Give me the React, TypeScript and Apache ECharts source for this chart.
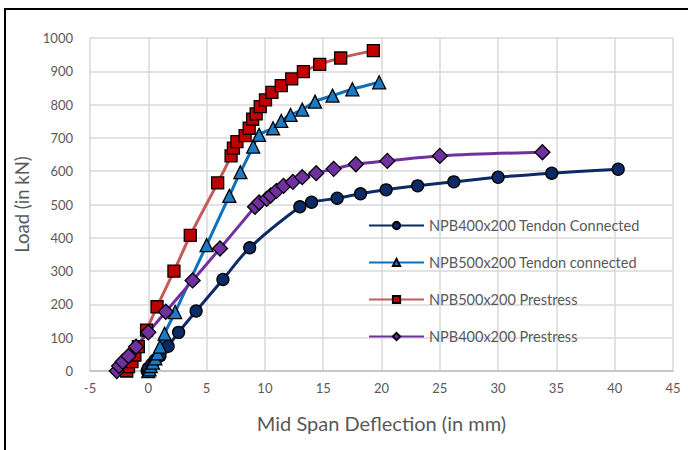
import React, { useEffect, useRef } from "react";
import * as echarts from "echarts";

const seriesNames = [
  "NPB400x200 Tendon Connected",
  "NPB500x200 Tendon connected",
  "NPB500x200 Prestress",
  "NPB400x200 Prestress",
];

const s1x = [-0.1, 0, 0.3, 0.6, 1.0, 1.7, 2.6, 4.1, 6.4, 8.7, 13.0, 14.0, 16.2, 18.2, 20.4, 23.1, 26.2, 30.0, 34.6, 40.3];
const s1y = [0, 8, 20, 33, 46, 74, 116, 180, 275, 370, 493, 507, 519, 532, 544, 556, 568, 582, 594, 606];

const s2x = [0, 0.1, 0.2, 0.4, 0.6, 0.8, 1.0, 1.4, 2.3, 5.0, 6.95, 7.9, 9.0, 9.5, 10.7, 11.4, 12.2, 13.2, 14.3, 15.8, 17.5, 19.8];
const s2y = [0, 5, 15, 25, 38, 53, 73, 112, 177, 378, 526, 597, 674, 709, 729, 751, 769, 785, 809, 827, 846, 867];

const s3x = [-1.85, -1.7, -1.4, -1.15, -0.85, -0.15, 0.75, 2.2, 3.6, 5.95, 7.1, 7.3, 7.6, 8.3, 8.65, 8.95, 9.25, 9.6, 10.05, 10.6, 11.4, 12.3, 13.3, 14.7, 16.5, 19.3];
const s3y = [0, 13, 28, 48, 73, 123, 193, 300, 407, 565, 646, 669, 689, 707, 729, 756, 772, 794, 814, 837, 857, 877, 899, 921, 940, 962];

const s4x = [-2.7, -2.5, -2.2, -1.7, -1.05, 0, 1.5, 3.8, 6.15, 9.15, 9.5, 10.15, 10.5, 11.0, 11.6, 12.4, 13.2, 14.4, 15.9, 17.8, 20.5, 25.0, 33.8];
const s4y = [0, 15, 28, 45, 73, 116, 178, 272, 368, 493, 506, 517, 527, 541, 556, 568, 582, 594, 607, 621, 631, 646, 657];

const zip = (xs: number[], ys: number[]) => xs.map((x, i) => [x, ys[i]]);

const FONT = "Lato";
const TXT = "#595959";

export default function App() {
  const ref = useRef<HTMLDivElement>(null);
  useEffect(() => {
    if (!ref.current) return;
    const chart = echarts.init(ref.current, undefined, { renderer: "svg" });
    const mk = (
      name: string,
      data: number[][],
      lineColor: string,
      fill: string,
      symbol: string,
      size: number
    ) => ({
      type: "line",
      name,
      data,
      smooth: 0.35,
      symbol,
      symbolSize: size,
      showAllSymbol: true,
      lineStyle: { color: lineColor, width: 3 },
      itemStyle: { color: fill, borderColor: "#000", borderWidth: 1.3 },
      color: lineColor,
    });
    chart.setOption({
      animation: false,
      textStyle: { fontFamily: FONT },
      graphic: [
        {
          type: "rect",
          shape: { x: 5, y: 9, width: 720, height: 480 },
          style: { fill: "none", stroke: "#000", lineWidth: 2 },
          z: 100,
        },
      ],
      grid: { left: 90, right: 15, top: 38, bottom: 79 },
      legend: {
        orient: "vertical",
        left: 363,
        top: 213,
        itemWidth: 55,
        itemHeight: 9,
        itemGap: 22,
        textStyle: { color: TXT, fontSize: 14.5, fontFamily: FONT },
        data: seriesNames,
      },
      xAxis: {
        type: "value",
        min: -5,
        max: 45,
        interval: 5,
        name: "Mid Span Deflection (in mm)",
        nameLocation: "middle",
        nameGap: 42,
        nameTextStyle: { color: TXT, fontSize: 20, fontFamily: FONT },
        axisLine: { show: true, onZero: false, lineStyle: { color: "#BFBFBF", width: 1.5 } },
        axisTick: { show: false },
        axisLabel: { color: TXT, fontSize: 13, margin: 10, fontFamily: FONT },
        splitLine: { show: true, lineStyle: { color: "#D9D9D9", width: 1.5 } },
      },
      yAxis: {
        type: "value",
        min: 0,
        max: 1000,
        interval: 100,
        name: "Load (in kN)",
        nameLocation: "middle",
        nameGap: 46,
        nameTextStyle: { color: TXT, fontSize: 18.5, fontFamily: FONT },
        axisLine: { show: false },
        axisTick: { show: false },
        axisLabel: {
          color: TXT,
          fontSize: 13,
          margin: 17,
          fontFamily: FONT,
          formatter: (v: number) => String(v),
        },
        splitLine: { show: true, lineStyle: { color: "#D9D9D9", width: 1.5 } },
      },
      series: [
        mk(seriesNames[0], zip(s1x, s1y), "#0B2A66", "#0B2A66", "circle", 12),
        mk(seriesNames[1], zip(s2x, s2y), "#0A70C0", "#1C7BC6", "triangle", 13),
        mk(seriesNames[2], zip(s3x, s3y), "#C55A5A", "#C00000", "rect", 12),
        mk(seriesNames[3], zip(s4x, s4y), "#7030A0", "#7030A0", "diamond", 15),
      ],
    });
    return () => chart.dispose();
  }, []);
  return (
    <div
      ref={ref}
      style={{ position: "fixed", left: 0, top: 0, width: 688, height: 450, background: "#fff" }}
    />
  );
}
